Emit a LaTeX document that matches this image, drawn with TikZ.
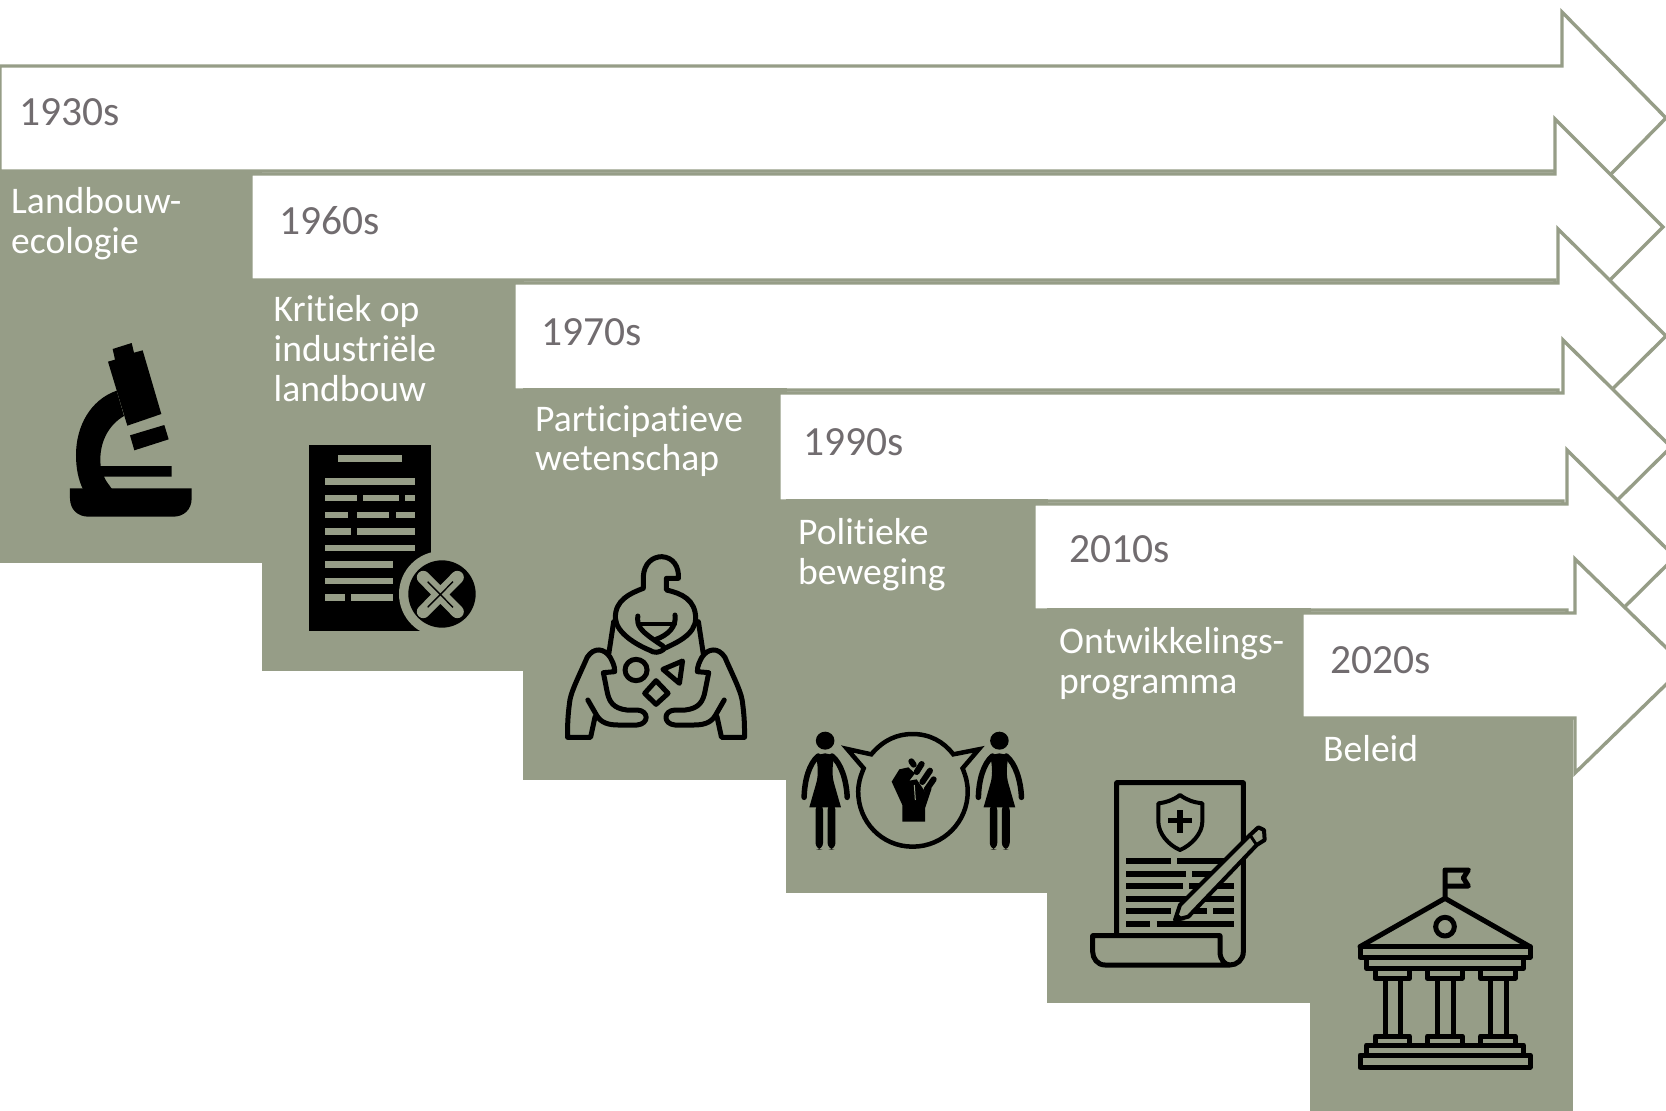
\documentclass[tikz,border=0pt]{standalone}
\usepackage{fontspec}
\setmainfont[Ligatures=NoCommon]{Carlito}
\definecolor{sage}{HTML}{969D87}
\definecolor{yeartext}{HTML}{716C6F}
\tikzset{
  timearrow/.style={draw=sage,fill=white,line width=3.4pt,miter limit=20},
  block/.style={fill=sage},
  yearlabel/.style={anchor=base west,inner sep=0pt,text=yeartext,font=\fontsize{41.5}{41.5}\selectfont},
  blocklabel/.style={anchor=base west,inner sep=0pt,text=white,align=left,font=\fontsize{37.6}{40}\selectfont},
  iconline/.style={draw=black,line width=5pt,line join=round,line cap=round},
  zoomone/.style={shift={(0,160)},x=0.33333pt,y=-0.33333pt},
  zoomtwo/.style={shift={(520,520)},x=0.3444pt,y=-0.33333pt},
  zoomthree/.style={shift={(1060,750)},x=0.33333pt,y=-0.33333pt},
  zoomfist/.style={shift={(870,740)},x=0.33333pt,y=-0.33333pt},
}
\newcommand{\timearrow}[7]{% left, bodytop, bodybottom, headx, headtop, tipx, centre ; headbottom by symmetry
  \pgfmathsetmacro{\hb}{2*#7-#5}
  \draw[timearrow] (#1,#2) -- (#4,#2) -- (#4,#5) -- (#6,#7) -- (#4,\hb) -- (#4,#3) -- (#1,#3) -- cycle;
}
\newcommand{\handpath}{(262,412) .. controls (245,385) and (215,380) .. (195,412) .. controls (175,460) and (150,510) .. (145,540) .. controls (138,590) and (138,620) .. (138,652) -- (205,652) -- (218,590) (197,540) -- (222,585) .. controls (235,610) and (260,615) .. (285,615) -- (340,615) .. controls (375,612) and (375,572) .. (340,570) -- (310,570) .. controls (270,565) and (258,545) .. (252,510) -- (242,458) -- (275,455) .. controls (275,435) and (268,425) .. (262,412) (272,305) -- (258,400)}
\begin{document}
\begin{tikzpicture}[x=1pt,y=-1pt]
\useasboundingbox (0,0) rectangle (1666,1111);
\fill[white] (0,0) rectangle (1666,1111);
% arrows and blocks
\timearrow{0}{66}{171}{1562}{12}{1666}{118}
\fill[block] (0,170) rectangle (262,563);
\timearrow{251}{174}{280}{1555}{119}{1663}{227}
\fill[block] (261.5,278.5) rectangle (523.5,671);
\timearrow{514}{283}{390}{1558}{229}{1666}{336}
\fill[block] (523,388) rectangle (786.5,780);
\timearrow{779}{393}{501}{1563}{340}{1671}{447}
\fill[block] (786,499) rectangle (1047.5,893);
\timearrow{1034}{504}{610}{1567}{450}{1675}{557}
\fill[block] (1047,608) rectangle (1310.5,1003);
\timearrow{1302}{613}{718}{1575}{559}{1685}{666}
\fill[block] (1310,717) rectangle (1573,1111);
% year labels
\node[yearlabel] (y1) at (19,125) {1930s};
\node[yearlabel] (y2) at (279,234) {1960s};
\node[yearlabel] (y3) at (541.5,345) {1970s};
\node[yearlabel] (y4) at (803,455) {1990s};
\node[yearlabel] (y5) at (1069,562) {2010s};
\node[yearlabel] (y6) at (1330,673.5) {2020s};
% block labels
\node[blocklabel] (l1a) at (11,213) {Landbouw-};
\node[blocklabel] (l1b) at (11,253.5) {ecologie};
\node[blocklabel] (l2a) at (273.5,321) {Kritiek op};
\node[blocklabel] (l2b) at (273.5,361) {industriële};
\node[blocklabel] (l2c) at (273.5,401) {landbouw};
\node[blocklabel] (l3a) at (535,431) {Participatieve};
\node[blocklabel] (l3b) at (535,470) {wetenschap};
\node[blocklabel] (l4a) at (798,544.5) {Politieke};
\node[blocklabel] (l4b) at (798,584.5) {beweging};
\node[blocklabel] (l5a) at (1059,653.5) {Ontwikkelings-};
\node[blocklabel] (l5b) at (1059,693) {programma};
\node[blocklabel] (l6a) at (1323,761) {Beleid};
% microscope
\begin{scope}[zoomone]
\fill[black] (210,985) -- (575,985) -- (575,1015) .. controls (575,1050) and (550,1070) .. (520,1070) -- (265,1070) .. controls (235,1070) and (210,1050) .. (210,1015) -- cycle;
\fill[black] (350,692) .. controls (270,720) and (228,800) .. (228,885) .. controls (228,925) and (235,960) .. (250,990) -- (338,990) .. controls (328,975) and (318,965) .. (312,950) -- (515,950) -- (515,918) -- (302,918) .. controls (295,850) and (325,795) .. (372,768) -- cycle;
\fill[black] (338,567) -- (395,549) -- (402,578) -- (428,571) -- (484,762) -- (382,797) -- (324,605) -- (345,599) -- cycle;
\fill[black] (390,826) -- (493,795) -- (506,838) -- (403,871) -- cycle;
% document with cross
\fill[black] (927,856) rectangle (1293,1412);
\fill[sage] (975,955) rectangle (1245,974);
\fill[sage] (1014,886) rectangle (1206,905);
\foreach \a/\b/\c in {975/1072/1005,1090/1197/1005,1216/1245/1005,975/1043/1055,1072/1168/1055,1187/1245/1055,975/1053/1105,1072/1245/1105,975/1245/1155,975/1178/1204,975/1178/1254,975/1034/1303,1052/1178/1303}
  \fill[sage] (\a,\c) rectangle (\b,\c+19);
\fill[sage] (1326,1302) circle[radius=129];
\fill[black] (1326,1302) circle[radius=101];
\draw[sage,line width=13pt,line cap=round] (1270,1252) -- (1372,1355) (1372,1252) -- (1270,1355);
\draw[black,line width=1.4pt] (1283,1265) -- (1359,1342) (1359,1265) -- (1283,1342);
\end{scope}
% people holding shapes
\begin{scope}[zoomtwo]
\draw[iconline] (358,205) -- (358,170) .. controls (360,130) and (385,110) .. (412,110) .. controls (445,112) and (462,140) .. (460,175) -- (425,175) -- (425,210) .. controls (470,220) and (510,240) .. (510,295) .. controls (510,345) and (450,370) .. (420,385) .. controls (405,400) and (390,400) .. (375,390) .. controls (340,375) and (280,340) .. (277,295) .. controls (275,240) and (320,220) .. (358,205);
\draw[iconline] (342,288) .. controls (340,320) and (345,330) .. (415,378);
\draw[iconline] (450,285) .. controls (455,320) and (430,345) .. (395,358);
\draw[iconline,line width=4pt] (342,312) -- (450,312);
\draw[iconline] \handpath;
\begin{scope}[xscale=-1,shift={(-790,0)}]
\draw[iconline] \handpath;
\end{scope}
\draw[iconline] (337,450) circle[radius=32];
\draw[iconline] (415,448) -- (472,423) -- (463,490) -- cycle;
\draw[iconline] (395,482) -- (430,520) -- (395,553) -- (362,520) -- cycle;
% two women
\foreach \dx in {0,506}{
  \begin{scope}[shift={(\dx,0)}]
  \fill[black] (886,662) circle[radius=27];
  \fill[black] (886,700) .. controls (876,700) and (866,704) .. (860,712) .. controls (866,740) and (866,770) .. (860,790) -- (840,862) -- (932,862) -- (912,790) .. controls (906,770) and (906,740) .. (912,712) .. controls (906,704) and (896,700) .. (886,700) -- cycle;
  \draw[black,line width=5.5pt,line cap=round] (866,708) .. controls (840,730) and (826,780) .. (825,832);
  \draw[black,line width=5.5pt,line cap=round] (906,708) .. controls (932,730) and (948,780) .. (950,832);
  \fill[black,rounded corners=7pt] (858,850) rectangle (880,989);
  \fill[black,rounded corners=7pt] (893,850) rectangle (916,989);
  \end{scope}
}
\draw[black,line width=4.5pt,line join=miter] (950,687) -- (1020,703) .. controls (1055,660) and (1095,642) .. (1140,642) .. controls (1190,642) and (1230,665) .. (1258,703) -- (1332,688) -- (1285,745) .. controls (1295,770) and (1300,790) .. (1300,815) .. controls (1300,905) and (1230,980) .. (1140,980) .. controls (1050,980) and (982,905) .. (982,815) .. controls (982,790) and (988,770) .. (998,745) -- cycle;
\end{scope}
% fist
\begin{scope}[zoomfist]
\fill[black] (65,125) -- (88,88) -- (115,82) -- (135,100) -- (118,122) -- (140,118) -- (165,155) -- (185,145) -- (165,205) -- (165,245) -- (97,245) -- (97,195) -- cycle;
\draw[black,line width=6pt,line cap=round] (124,64) -- (131,74) (155,72) -- (140,96) (180,92) -- (157,126) (191,118) -- (170,148);
\draw[sage,line width=1pt] (133,135) -- (136,180);
\end{scope}
% scroll with pencil
\begin{scope}[zoomthree]
\draw[iconline] (170,552) -- (170,98) -- (550,98) -- (550,605) .. controls (550,630) and (530,645) .. (510,645) -- (135,645) .. controls (112,645) and (98,625) .. (98,605) -- (98,557) -- (480,557) -- (480,605) .. controls (480,630) and (495,645) .. (510,645);
\draw[iconline,line width=4pt] (360,135) .. controls (340,150) and (320,157) .. (295,160) -- (295,215) .. controls (295,250) and (325,285) .. (360,300) .. controls (395,285) and (427,250) .. (427,215) -- (427,160) .. controls (400,157) and (380,150) .. (360,135) -- cycle;
\draw[black,line width=5.5pt] (360,180) -- (360,248) (325,212) -- (397,212);
\foreach \a/\b/\c in {198/333/333,352/495/333,198/378/371,397/460/371,198/370/408,388/523/408,198/523/447,198/333/484,352/440/484,460/523/484,198/270/521,290/523/521}
  \draw[black,line width=5.8pt] (\a,\c) -- (\b,\c);
\draw[draw=black,fill=sage,line width=4pt,line join=round] (345,510) -- (360,465) -- (570,255) -- (595,232) -- (612,240) -- (614,270) -- (590,285) -- (385,500) -- cycle;
\draw[black,line width=3pt] (570,255) -- (590,285);
\fill[black] (345,515) -- (352,490) -- (375,510) -- cycle;
% building
\draw[iconline] (1155,445) -- (1155,360) -- (1225,360) -- (1210,384) -- (1225,408) -- (1155,408);
\draw[iconline] (900,590) -- (1155,445) -- (1410,590);
\draw[iconline] (1155,530) circle[radius=28];
\draw[iconline] (900,590) rectangle (1410,622);
\draw[iconline] (920,622) rectangle (1390,655);
\foreach \a in {945,1103,1262}{
  \draw[iconline] (\a,655) rectangle (\a+103,685);
  \draw[iconline] (\a+30,685) rectangle (\a+76,858);
  \draw[iconline] (\a,858) rectangle (\a+103,885);
}
\draw[iconline] (920,885) rectangle (1390,915);
\draw[iconline] (900,915) rectangle (1410,952);
\end{scope}
\end{tikzpicture}
\end{document}
